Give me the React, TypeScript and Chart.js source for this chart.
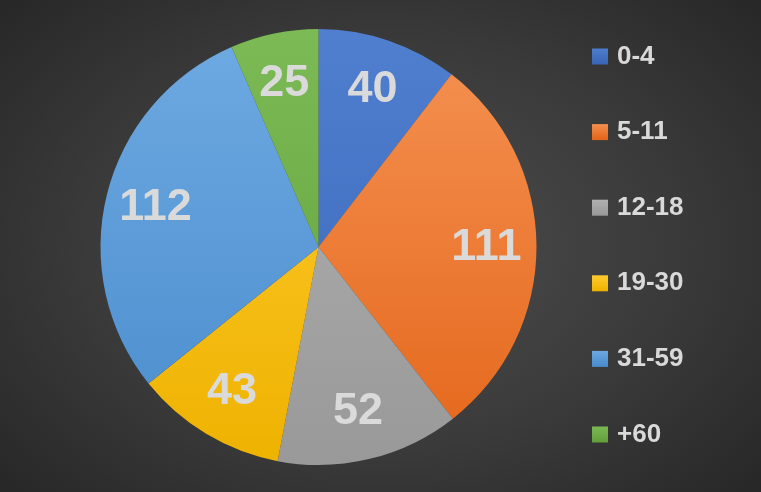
import React, { useEffect, useRef } from "react";
import { Chart, registerables } from "chart.js";

Chart.register(...registerables);

const categories = ["0-4", "5-11", "12-18", "19-30", "31-59", "+60"];
const values = [40, 111, 52, 43, 112, 25];
const topColors = ["#507fd0", "#f59253", "#b2b2b2", "#ffcc33", "#6eaae2", "#7bba54"];
const bottomColors = ["#3a66b8", "#e4661a", "#999999", "#eeb200", "#4a8ccd", "#63a03d"];
const legendColors = ["#4472c4", "#ed7d31", "#a5a5a5", "#ffc000", "#5b9bd5", "#70ad47"];

const labelPlugin = {
  id: "sliceLabels",
  afterDatasetsDraw(chart: any) {
    const ctx = chart.ctx;
    const meta = chart.getDatasetMeta(0);
    ctx.save();
    ctx.font = "bold 45px 'Liberation Sans', Arial, sans-serif";
    ctx.fillStyle = "#dadada";
    ctx.textAlign = "center";
    ctx.textBaseline = "middle";
    meta.data.forEach((arc: any, i: number) => {
      const p = arc.getProps(["startAngle", "endAngle", "outerRadius", "x", "y"], true);
      const mid = (p.startAngle + p.endAngle) / 2;
      const d = p.outerRadius * 0.77;
      ctx.fillText(String(values[i]), p.x + Math.cos(mid) * d, p.y + Math.sin(mid) * d + 1);
    });
    ctx.restore();
  },
};

const legendPlugin = {
  id: "sideLegend",
  afterDraw(chart: any) {
    const ctx = chart.ctx;
    const area = chart.chartArea;
    const x = area.right + 55;
    const step = 75.6;
    const cy = (area.top + area.bottom) / 2 - 2.5;
    const y0 = cy - (step * (categories.length - 1)) / 2;
    ctx.save();
    ctx.font = "bold 26px 'Liberation Sans', Arial, sans-serif";
    ctx.textBaseline = "middle";
    ctx.textAlign = "left";
    categories.forEach((c, i) => {
      const y = y0 + i * step;
      const g = ctx.createLinearGradient(0, y - 8, 0, y + 8);
      g.addColorStop(0, topColors[i]);
      g.addColorStop(1, bottomColors[i]);
      ctx.fillStyle = g;
      ctx.fillRect(x, y - 7, 16, 16);
      ctx.fillStyle = "#d9d9d9";
      ctx.fillText(c, x + 25, y + 1);
    });
    ctx.restore();
  },
};

export default function App() {
  const ref = useRef<HTMLCanvasElement | null>(null);
  useEffect(() => {
    document.body.style.margin = "0";
    const canvas = ref.current!;
    const chart = new Chart(canvas, {
      type: "pie",
      data: {
        labels: categories,
        datasets: [
          {
            data: values,
            borderWidth: 0,
            backgroundColor: (c: any) => {
              const i = c.dataIndex;
              const area = c.chart.chartArea;
              if (!area) return legendColors[i];
              const g = c.chart.ctx.createLinearGradient(0, area.top, 0, area.bottom);
              g.addColorStop(0, topColors[i]);
              g.addColorStop(1, bottomColors[i]);
              return g;
            },
          },
        ],
      },
      options: {
        responsive: false,
        animation: false,
        layout: { padding: { left: 100, right: 224, top: 29, bottom: 27 } },
        plugins: {
          legend: { display: false },
          tooltip: { enabled: false },
        },
      },
      plugins: [labelPlugin, legendPlugin],
    });
    return () => chart.destroy();
  }, []);
  return (
    <div
      style={{
        position: "fixed",
        left: 0,
        top: 0,
        width: 761,
        height: 492,
        background:
          "radial-gradient(ellipse 70% 75% at 50% 50%, #4e4e4e 0%, #3a3a3a 55%, #262626 100%)",
      }}
    >
      <canvas ref={ref} width={761} height={492} style={{ display: "block" }} />
    </div>
  );
}
